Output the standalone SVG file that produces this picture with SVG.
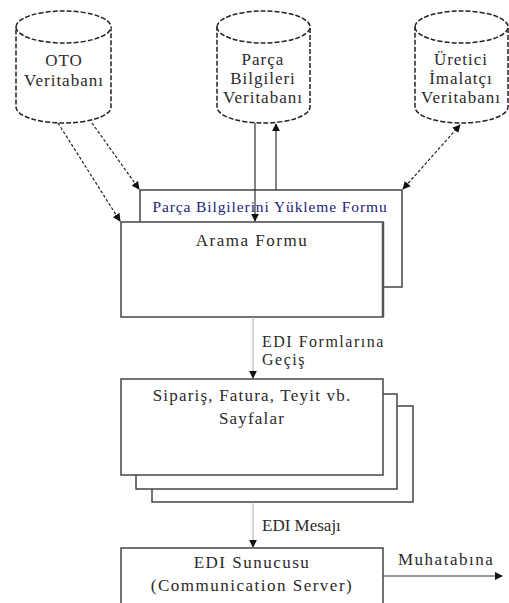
<svg xmlns="http://www.w3.org/2000/svg" width="509" height="603" viewBox="0 0 509 603">
<style>
.db{fill:#fff;stroke:#222;stroke-width:1.5;stroke-dasharray:5 2}
.box{fill:#fff;stroke:#444;stroke-width:1.5}
.t{font-family:"Liberation Serif","Times New Roman","DejaVu Serif",serif;fill:#2a2a2a;text-anchor:middle}
.lbl{font-family:"Liberation Serif","Times New Roman","DejaVu Serif",serif;fill:#2a2a2a}
.blue{font-family:"Liberation Serif","Times New Roman","DejaVu Serif",serif;fill:#1c237a;text-anchor:middle}
.dot{fill:none;stroke:#222;stroke-width:1.2;stroke-dasharray:3 2}
.ln{fill:none;stroke:#333;stroke-width:1.2}
.gl{fill:none;stroke:#aaa;stroke-width:1}
</style>
<defs>
<marker id="ah" viewBox="0 0 10 10" refX="9" refY="5" markerWidth="8" markerHeight="8" orient="auto-start-reverse" markerUnits="userSpaceOnUse">
<path d="M0,0 L10,5 L0,10 z" fill="#111"/>
</marker>
</defs>

<g id="oto-db">
<path class="db" d="M16,27 A47.5,16 0 0 1 111,27 L111,107 A47.5,16 0 0 1 16,107 Z"/>
<path class="db" d="M16,27 A47.5,16 0 0 0 111,27"/>
<text class="t" x="64" y="66" font-size="17" letter-spacing="1">OTO</text>
<text class="t" x="64" y="86" font-size="17" letter-spacing="1">Veritabanı</text>
</g>

<g id="parca-db">
<path class="db" d="M217,27 A46.5,16 0 0 1 310,27 L310,107 A46.5,16 0 0 1 217,107 Z"/>
<path class="db" d="M217,27 A46.5,16 0 0 0 310,27"/>
<text class="t" x="263" y="65" font-size="17" letter-spacing="1">Parça</text>
<text class="t" x="263" y="84" font-size="17" letter-spacing="1">Bilgileri</text>
<text class="t" x="263" y="103" font-size="17" letter-spacing="1">Veritabanı</text>
</g>

<g id="uretici-db">
<path class="db" d="M415,27 A46.5,16 0 0 1 508,27 L508,107 A46.5,16 0 0 1 415,107 Z"/>
<path class="db" d="M415,27 A46.5,16 0 0 0 508,27"/>
<text class="t" x="461" y="65" font-size="17" letter-spacing="1">Üretici</text>
<text class="t" x="461" y="84" font-size="17" letter-spacing="1">İmalatçı</text>
<text class="t" x="461" y="103" font-size="17" letter-spacing="1">Veritabanı</text>
</g>

<g id="yukleme-formu">
<rect class="box" x="140" y="190" width="262" height="97" stroke="#333"/>
<text class="blue" x="270" y="212" font-size="15.5" letter-spacing="0.9">Parça Bilgilerini Yükleme Formu</text>
</g>

<g id="arama-formu">
<rect class="box" x="121" y="222" width="262" height="95"/>
<line x1="383" y1="222" x2="383" y2="317" stroke="#555" stroke-width="2.5"/>
<text class="t" x="252" y="246" font-size="17" letter-spacing="1.5">Arama Formu</text>
</g>

<g id="sayfalar">
<rect class="box" x="152" y="406" width="261" height="96"/>
<rect class="box" x="136" y="394" width="261" height="95"/>
<rect class="box" x="121" y="379" width="262" height="96"/>
<text class="t" x="252" y="401" font-size="17" letter-spacing="1.2">Sipariş, Fatura, Teyit vb.</text>
<text class="t" x="252" y="424" font-size="17" letter-spacing="1.2">Sayfalar</text>
</g>

<g id="edi-sunucusu">
<rect class="box" x="121" y="548" width="262" height="60"/>
<text class="t" x="252" y="568" font-size="17" letter-spacing="1.5">EDI Sunucusu</text>
<text class="t" x="252" y="591" font-size="17" letter-spacing="1.5">(Communication Server)</text>
</g>

<g id="connectors">
<line class="dot" x1="58" y1="123" x2="120" y2="221" marker-end="url(#ah)"/>
<line class="dot" x1="92" y1="123" x2="139" y2="189" marker-end="url(#ah)"/>
<line class="dot" x1="460" y1="125" x2="403" y2="189" marker-start="url(#ah)" marker-end="url(#ah)"/>
<line class="ln" x1="255" y1="123" x2="255" y2="221" marker-end="url(#ah)"/>
<line class="ln" x1="276" y1="190" x2="276" y2="124" stroke-width="1.6" marker-end="url(#ah)"/>
<line class="gl" x1="253" y1="317" x2="253" y2="378" marker-end="url(#ah)"/>
<line class="gl" x1="253" y1="502" x2="253" y2="547" marker-end="url(#ah)"/>
<line class="ln" x1="383" y1="576" x2="502" y2="576" marker-end="url(#ah)"/>
<text class="lbl" x="262" y="347" font-size="16" letter-spacing="1.5">EDI Formlarına</text>
<text class="lbl" x="262" y="365" font-size="16" letter-spacing="1.5">Geçiş</text>
<text class="lbl" x="262" y="531" font-size="17">EDI Mesajı</text>
<text class="lbl" x="398" y="565" font-size="17" letter-spacing="1.5">Muhatabına</text>
</g>
</svg>
